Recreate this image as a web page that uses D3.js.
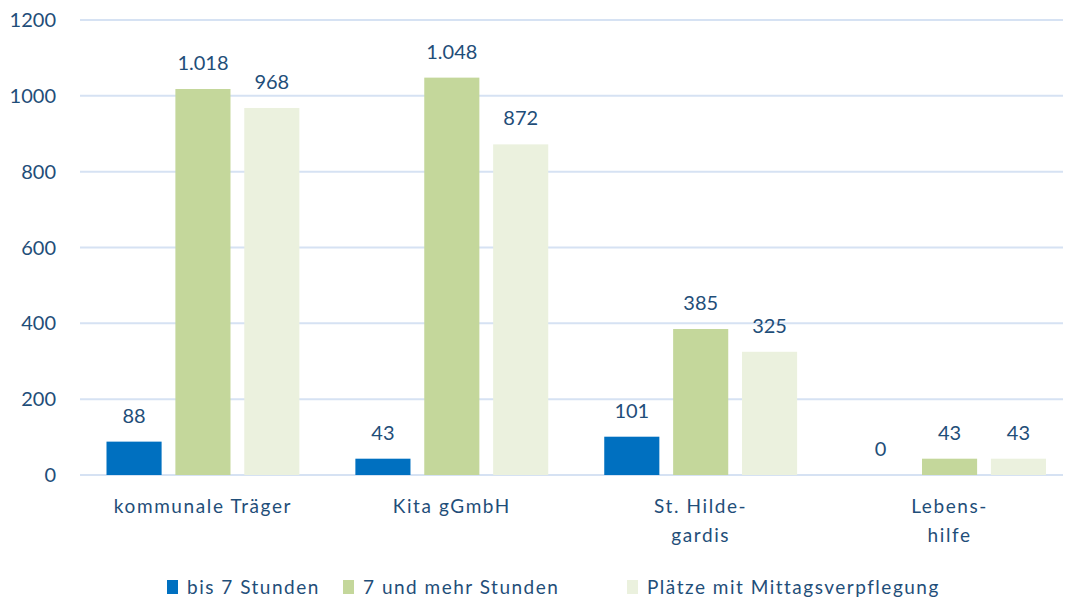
<!DOCTYPE html>
<html>
<head>
<meta charset="utf-8">
<script src="https://cdn.jsdelivr.net/npm/d3@7"></script>
<style>
  body { margin: 0; background: #fff; }
  text { font-family: Lato, "Open Sans", sans-serif; fill: #1F4E79; }
</style>
</head>
<body>
<div id="chart"></div>
<script>
// data
var categories = [["kommunale Träger"], ["Kita gGmbH"], ["St. Hilde-", "gardis"], ["Lebens-", "hilfe"]];
var seriesNames = ["bis 7 Stunden", "7 und mehr Stunden", "Plätze mit Mittagsverpflegung"];
var bis7 = [88, 43, 101, 0];
var mehr7 = [1018, 1048, 385, 43];
var mittag = [968, 872, 325, 43];
var yTicks = [0, 200, 400, 600, 800, 1000, 1200];

var colors = ["#0070C0", "#C4D79B", "#EBF1DE"];
var seriesValues = [bis7, mehr7, mittag];

var width = 1069, height = 601;
var mLeft = 80, mRight = 1063, mTop = 20, mBottom = 475;

var de = d3.formatLocale({decimal: ",", thousands: ".", grouping: [3], currency: ["", " €"]});
var fmt = de.format(",d");

var svg = d3.select("#chart").append("svg")
  .attr("width", width)
  .attr("height", height);

// category bands run a little past the gridline end, as in the original
var x0 = d3.scaleBand().domain(d3.range(categories.length)).range([78.5, 1074]);
var x1 = d3.scaleBand().domain(d3.range(seriesNames.length)).range([28, x0.bandwidth() - 28]).paddingInner(0.2);
var y = d3.scaleLinear().domain([0, 1200]).range([mBottom, mTop]);

// grid
svg.append("g").selectAll("line")
  .data(yTicks)
  .enter().append("line")
  .attr("x1", mLeft).attr("x2", mRight)
  .attr("y1", function(d) { return y(d); })
  .attr("y2", function(d) { return y(d); })
  .attr("stroke", "#D6E2F3")
  .attr("stroke-width", 2);

// y tick labels
svg.append("g").selectAll("text")
  .data(yTicks)
  .enter().append("text")
  .attr("x", 56)
  .attr("y", function(d) { return y(d); })
  .attr("dy", "0.35em")
  .attr("text-anchor", "end")
  .style("font-size", "20px")
  .text(function(d) { return d; });

var groups = svg.append("g").selectAll("g")
  .data(categories)
  .enter().append("g")
  .attr("transform", function(d, i) { return "translate(" + x0(i) + ",0)"; });

groups.each(function(c, ci) {
  var g = d3.select(this);
  var vals = seriesValues.map(function(s) { return s[ci]; });
  g.selectAll("rect")
    .data(vals)
    .enter().append("rect")
    .attr("x", function(d, si) { return x1(si); })
    .attr("y", function(d) { return y(d); })
    .attr("width", x1.bandwidth())
    .attr("height", function(d) { return y(0) - y(d); })
    .attr("fill", function(d, si) { return colors[si]; });
  g.selectAll("text.val")
    .data(vals)
    .enter().append("text")
    .attr("class", "val")
    .attr("x", function(d, si) { return x1(si) + x1.bandwidth() / 2; })
    .attr("y", function(d) { return y(d) - 19; })
    .attr("text-anchor", "middle")
    .style("font-size", "20px")
    .text(function(d) { return fmt(d); });
  var lab = g.append("text")
    .attr("x", x0.bandwidth() / 2)
    .attr("y", 513)
    .attr("text-anchor", "middle")
    .style("font-size", "19px")
    .style("letter-spacing", "1.6px");
  c.forEach(function(line, li) {
    lab.append("tspan")
      .attr("x", x0.bandwidth() / 2)
      .attr("dy", li === 0 ? 0 : 29)
      .text(line);
  });
});

// legend
var legX = [167, 343, 627];
var leg = svg.append("g").selectAll("g")
  .data(seriesNames)
  .enter().append("g")
  .attr("transform", function(d, i) { return "translate(" + legX[i] + ",580)"; });
leg.append("rect")
  .attr("width", 11).attr("height", 14)
  .attr("fill", function(d, i) { return colors[i]; });
leg.append("text")
  .attr("x", 20).attr("y", 14)
  .style("font-size", "19px")
  .style("letter-spacing", "1.5px")
  .text(function(d) { return d; });
</script>
</body>
</html>
